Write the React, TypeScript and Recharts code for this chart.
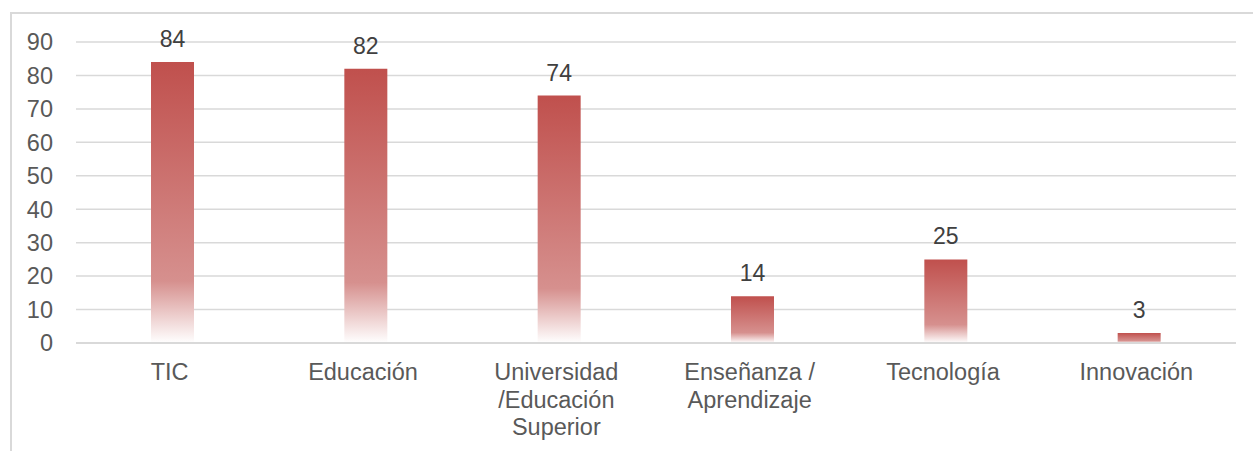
import React from "react";
import {
  BarChart,
  Bar,
  XAxis,
  YAxis,
  CartesianGrid,
  LabelList,
} from "recharts";

// Counts per keyword; category names carry "\n" where the reference wraps.
const categories = [
  "TIC",
  "Educación",
  "Universidad\n/Educación\nSuperior",
  "Enseñanza /\nAprendizaje",
  "Tecnología",
  "Innovación",
];
const counts = [84, 82, 74, 14, 25, 3];
const yTicks = [0, 10, 20, 30, 40, 50, 60, 70, 80, 90];

const FONT = '"Liberation Sans", Arial, sans-serif';

const data = categories.map((name, i) => ({ name, value: counts[i] }));

function CategoryTick(props: any) {
  const { x, y, payload } = props;
  const lines = String(payload.value).split("\n");
  return (
    <text
      x={x - 3}
      y={y}
      textAnchor="middle"
      fill="#595959"
      fontSize={23.5}
      fontFamily={FONT}
    >
      {lines.map((line, i) => (
        <tspan key={i} x={x - 3} dy={i === 0 ? 37 : 27.5}>
          {line}
        </tspan>
      ))}
    </text>
  );
}

export default function App() {
  return (
    <div
      style={{
        position: "absolute",
        left: 0,
        top: 0,
        width: 1253,
        height: 451,
        background: "#fff",
        fontFamily: FONT,
      }}
    >
      <div
        style={{
          position: "absolute",
          left: 10,
          top: 12,
          right: 0,
          bottom: 0,
          borderTop: "2px solid #d9d9d9",
          borderLeft: "2px solid #d9d9d9",
        }}
      />
      <div style={{ position: "absolute", left: 0, top: 0 }}>
        <BarChart
          width={1253}
          height={451}
          data={data}
          margin={{ top: 42, right: 17, bottom: 8, left: 16 }}
        >
          <defs>
            <linearGradient id="barFade" x1="0" y1="0" x2="0" y2="1">
              <stop offset="0%" stopColor="#C0504D" />
              <stop offset="78%" stopColor="#D6908E" />
              <stop offset="100%" stopColor="#FFFFFF" />
            </linearGradient>
          </defs>
          <CartesianGrid
            vertical={false}
            stroke="#d9d9d9"
            strokeWidth={1.5}
          />
          <XAxis
            dataKey="name"
            height={100}
            interval={0}
            tickLine={false}
            tickSize={0}
            tickMargin={0}
            axisLine={{ stroke: "#d9d9d9", strokeWidth: 2 }}
            tick={<CategoryTick />}
          />
          <YAxis
            width={60}
            domain={[0, 90]}
            ticks={yTicks}
            interval={0}
            axisLine={false}
            tickLine={false}
            tickMargin={17}
            tick={{ fill: "#595959", fontSize: 23.5, fontFamily: FONT }}
          />
          <Bar
            dataKey="value"
            fill="url(#barFade)"
            barSize={43}
            isAnimationActive={false}
          >
            <LabelList
              dataKey="value"
              position="top"
              offset={15}
              fill="#404040"
              fontSize={23}
              fontFamily={FONT}
            />
          </Bar>
        </BarChart>
      </div>
    </div>
  );
}
